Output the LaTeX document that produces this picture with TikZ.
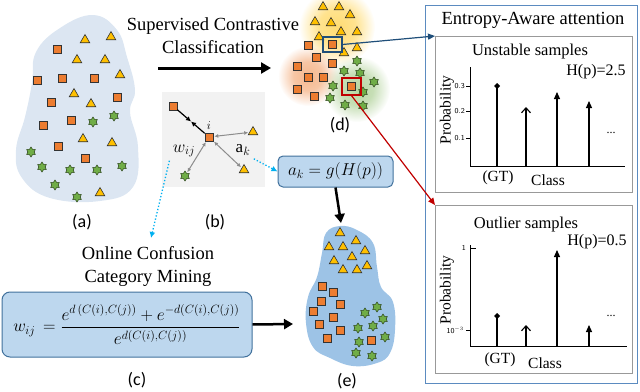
\documentclass[tikz,border=0pt]{standalone}
\usepackage{amsmath}
\usepackage{fontspec}
\setmainfont{Liberation Serif}
\newfontfamily\capfont{Carlito}
\usetikzlibrary{arrows.meta,calc,positioning,shapes.geometric,fadings}
\definecolor{ecOrange}{HTML}{ED7D31}
\definecolor{ecYellow}{HTML}{FFC000}
\definecolor{ecGreen}{HTML}{70AD47}
\definecolor{ecPale}{HTML}{DCE6F2}
\definecolor{ecBlob}{HTML}{9DC3E6}
\definecolor{ecBox}{HTML}{BDD7EE}
\definecolor{ecBoxLine}{HTML}{41719C}
\definecolor{ecNavy}{HTML}{1F4E79}
\definecolor{ecRed}{HTML}{C00000}
\definecolor{ecFrame}{HTML}{5B8BC0}
\definecolor{ecGray}{HTML}{F2F2F2}
\definecolor{ecSky}{HTML}{00B0F0}
\pgfdeclareradialshading{glowshade}{\pgfpointorigin}{color(0bp)=(pgftransparent!0); color(12bp)=(pgftransparent!20); color(25bp)=(pgftransparent!100); color(50bp)=(pgftransparent!100)}
\pgfdeclarefading{glow}{\pgfuseshading{glowshade}}
\tikzset{
  sq/.style={draw=black!80,fill=ecOrange,minimum size=8pt,inner sep=0pt,line width=0.6pt},
  tri/.style={regular polygon,regular polygon sides=3,draw=black!80,fill=ecYellow,minimum size=11pt,inner sep=0pt,line width=0.6pt},
  hex/.style={star,star points=6,star point ratio=1.6,draw=black!60!ecGreen,fill=ecGreen,minimum size=10pt,inner sep=0pt,line width=0.5pt},
  sublabel/.style={font=\capfont\fontsize{18}{20}\selectfont},
  headline/.style={font=\fontsize{18.5}{23}\selectfont,align=center},
  panel/.style={draw=black!40,line width=0.8pt,fill=white,anchor=north west,inner sep=0pt},
}
\begin{document}
\begin{tikzpicture}[x=1pt,y=-1pt,>=Latex]
\useasboundingbox (0,0) rectangle (640,391);
% (a) raw embedding
\fill[ecPale] plot[smooth cycle,tension=0.7] coordinates {(93,15) (117,30) (127,57) (135,90) (130,112) (138,147) (133,187) (100,201) (50,198) (22,178) (16,150) (25,117) (32,83) (36,52) (60,28)};
\foreach [count=\n] \p in {(57,49),(37,80),(62,78),(94,78),(51,102),(117,97),(71,120),(43,125),(58,146),(85,158)}
  \node[sq] (aSq\n) at \p {};
\foreach [count=\n] \p in {(85,40),(111,37),(77,60),(105,60),(120,75),(74,94),(91,104),(83,139),(112,143),(100,193)}
  \node[tri] (aTri\n) at \p {};
\foreach [count=\n] \p in {(93,122),(114,116),(31,152),(42,167),(70,170),(97,170),(122,166),(55,185),(77,197)}
  \node[hex] (aHex\n) at \p {};
\node[sublabel] (labA) at (82,222) {(a)};

% training arrow
\node[headline] (sccTitle) at (213,36) {Supervised Contrastive\\Classification};
\coordinate (aOut) at (158,68);
\coordinate (dIn) at (271,68);
\draw[line width=3pt,-{Triangle[length=10pt,width=11pt]}] (aOut) -- (dIn);

% (b) pairwise relations
\node[fill=ecGray,minimum width=103pt,minimum height=95pt,anchor=north west,inner sep=0pt] (simBg) at (162,92) {};
\node[sq] (bAnc) at (173,106) {};
\node[sq] (bI) at (209,137) {};
\node[tri] (bTa) at (253,132) {};
\node[tri] (bTb) at (244,170) {};
\node[hex] (bStar) at (185,176) {};
\node[above=0pt of bI,font=\fontsize{12}{12}\selectfont] (iLab) {$i$};
\draw[line width=1.2pt,-{Latex[length=5pt,width=5pt]}] (bAnc) -- ($(bAnc)!0.5!(bI)$);
\draw[line width=1.2pt,-{Latex[length=5pt,width=5pt]}] (bI) -- ($(bAnc)!0.5!(bI)$);
\foreach \t in {bTa,bTb,bStar}
  \draw[black!45,line width=1pt,{Latex[length=4pt,width=4pt]}-{Latex[length=4pt,width=4pt]},shorten <=1pt,shorten >=1pt] (bI) -- (\t);
\node[font=\fontsize{18}{18}\selectfont] (wLab) at (184,151) {$w_{ij}$};
\node[font=\fontsize{17}{17}\selectfont] (akLab) at (243,150) {$\mathrm{a}_k$};
\node[sublabel] (labB) at (215,222) {(b)};

% (d) learned clusters
\fill[ecYellow!55,path fading=glow] (337,27) circle (38);
\fill[ecOrange!55,path fading=glow] (308,76) circle (30);
\fill[ecGreen!50,path fading=glow] (357,89) circle (33);
\foreach [count=\n] \p in {(323,7),(339,7),(350,15),(315,22),(331,23),(341,32),(357,32),(319,37),(344,53),(357,48)}
  \node[tri] (dTri\n) at \p {};
\foreach [count=\n] \p in {(332,44),(308,45),(316,57),(332,63),(297,66),(308,77),(323,77),(297,89),(314,96),(351,86)}
  \node[sq] (dSq\n) at \p {};
\foreach [count=\n] \p in {(357,61),(344,71),(360,73),(333,86),(374,82),(363,92),(330,98),(345,105),(363,106)}
  \node[hex] (dHex\n) at \p {};
\node[draw=ecNavy,line width=1.2pt,minimum width=19pt,minimum height=15pt,inner sep=0pt] (dBlue) at (332.5,44.5) {};
\node[draw=ecRed,line width=1.2pt,minimum width=19pt,minimum height=17pt,inner sep=0pt] (dRed) at (351.5,86.5) {};
\node[sublabel] (labD) at (340,125) {(d)};

% entropy gate
\node[rounded corners=5pt,fill=ecBox,draw=ecBoxLine,line width=1pt,minimum width=115pt,minimum height=31pt,inner sep=0pt,font=\fontsize{18.5}{18}\selectfont] (gate) at (335.5,171.5) {$a_k=g(H(p))$};
\draw[ecSky,dotted,line width=1.3pt,-{Latex[length=6pt,width=6pt]}] (akLab.south east) -- (gate.west);

% (c) confusion mining
\node[headline] (mineTitle) at (148,266) {Online Confusion\\Category Mining};
\coordinate (mineIn) at (151,238);
\draw[ecSky,dotted,line width=1.3pt,-{Latex[length=6pt,width=6pt]}] (wLab.south west) -- (mineIn);
\node[rounded corners=8pt,fill=ecBox,draw=ecBoxLine,line width=1pt,minimum width=250pt,minimum height=65pt,inner sep=0pt,font=\fontsize{18}{18}\selectfont] (conf) at (127,324.5)
  {$w_{ij}\,=\dfrac{e^{d\,(C(i),C(j))}+e^{-d(C(i),C(j))}}{e^{d(C(i),C(j))}}$};
\node[sublabel] (labC) at (137,380) {(c)};

% (e) refined embedding
\fill[ecBlob] plot[smooth cycle,tension=0.7] coordinates {(340,226) (357,230) (373,243) (377,267) (381,287) (393,302) (395,330) (390,353) (377,363) (353,366) (330,358) (313,347) (306,323) (308,297) (317,277) (322,253) (326,233)};
\foreach [count=\n] \p in {(340,233),(356,241),(329,247),(343,247),(365,251),(334,261),(352,257),(367,266),(343,270),(357,270)}
  \node[tri] (eTri\n) at \p {};
\foreach [count=\n] \p in {(322,286),(333,292),(321,301),(340,304),(313,311),(333,317),(319,324),(340,330),(327,338),(371,340)}
  \node[sq] (eSq\n) at \p {};
\foreach [count=\n] \p in {(377,307),(365,313),(383,319),(373,326),(358,328),(385,337),(359,342),(356,353),(372,356)}
  \node[hex] (eHex\n) at \p {};
\coordinate (eTop) at (341,223);
\coordinate (eLeft) at (293,324);
\draw[line width=2.5pt,-{Triangle[length=9pt,width=10pt]}] (gate.south) -- (eTop);
\draw[line width=2.5pt,-{Triangle[length=9pt,width=10pt]}] (conf.east) -- (eLeft);
\node[sublabel] (labE) at (347,381) {(e)};

% entropy-aware attention panel
\node[draw=ecFrame,line width=1.2pt,minimum width=212pt,minimum height=378pt,anchor=north west,inner sep=0pt] (attn) at (425,5) {};
\node[font=\fontsize{18.5}{20}\selectfont] (attnTitle) at (533,20) {Entropy-Aware attention};
\node[panel,minimum width=197pt,minimum height=156pt] (unstable) at (435,36) {};
\node[panel,minimum width=197pt,minimum height=168pt] (outlier) at (435,205) {};
\draw[ecNavy,line width=1.2pt,-{Triangle[length=7pt,width=6pt]}] (dBlue.east) -- (unstable.north west);
\draw[ecRed,line width=1.2pt,-{Triangle[length=7pt,width=6pt]}] (dRed.south) -- (outlier.north west);

% unstable samples plot
\node[font=\fontsize{16.5}{18}\selectfont] (unTitle) at (530,52) {Unstable samples};
\node[font=\fontsize{16}{18}\selectfont] (unH) at (596,72) {H(p)=2.5};
\node[rotate=90,font=\fontsize{15.5}{16}\selectfont] (unY) at (447,110) {Probability};
\draw[line width=0.8pt] (470,67) -- (470,166) -- (625,166);
\foreach \yy/\lab in {86/0.3,111/0.2,138/0.1} {
  \draw[line width=0.6pt] (466,\yy) -- (470,\yy);
  \node[anchor=east,inner sep=1pt,font=\sffamily\fontsize{7.5}{8}\selectfont] at (466,\yy) {\lab};
}
\draw[line width=1.1pt,-{Turned Square[length=6pt,width=6pt]}] (497,166) -- (497,83);
\draw[line width=1.1pt,-{Straight Barb[length=5pt,width=9pt]}] (526,166) -- (526,107);
\draw[line width=1.1pt,-{Triangle[length=7pt,width=6pt]}] (557,166) -- (557,92);
\draw[line width=1.1pt,-{Triangle[length=7pt,width=6pt]}] (589,166) -- (589,101);
\node[font=\fontsize{12}{12}\selectfont] (unDots) at (611,133) {...};
\node[font=\fontsize{15.5}{16}\selectfont] (unGT) at (498,178) {(GT)};
\node[font=\fontsize{15.5}{16}\selectfont] (unX) at (548,180) {Class};

% outlier samples plot
\node[font=\fontsize{16.5}{18}\selectfont] (outTitle) at (526,225) {Outlier samples};
\node[font=\fontsize{16}{18}\selectfont] (outH) at (597,242) {H(p)=0.5};
\node[rotate=90,font=\fontsize{15.5}{16}\selectfont] (outY) at (447,290) {Probability};
\draw[line width=0.8pt] (470,245) -- (470,346) -- (627,346);
\draw[line width=0.6pt] (470,248) -- (476,248);
\node[anchor=east,inner sep=1pt,font=\sffamily\fontsize{7.5}{8}\selectfont] at (467,248) {1};
\draw[line width=0.6pt] (466,330) -- (471,330);
\node[anchor=east,inner sep=1pt,font=\sffamily\fontsize{7.5}{8}\selectfont] at (465,330) {10$^{-3}$};
\draw[line width=1.1pt,-{Turned Square[length=6pt,width=6pt]}] (497,346) -- (497,313);
\draw[line width=1.1pt,-{Straight Barb[length=5pt,width=9pt]}] (526,346) -- (526,325);
\draw[line width=1.1pt,-{Triangle[length=7pt,width=6pt]}] (557,346) -- (557,250);
\draw[line width=1.1pt,-{Triangle[length=7pt,width=6pt]}] (589,346) -- (589,325);
\node[font=\fontsize{12}{12}\selectfont] (outDots) at (611,316) {...};
\node[font=\fontsize{15.5}{16}\selectfont] (outGT) at (500,360) {(GT)};
\node[font=\fontsize{15.5}{16}\selectfont] (outX) at (545,363) {Class};
\end{tikzpicture}
\end{document}
